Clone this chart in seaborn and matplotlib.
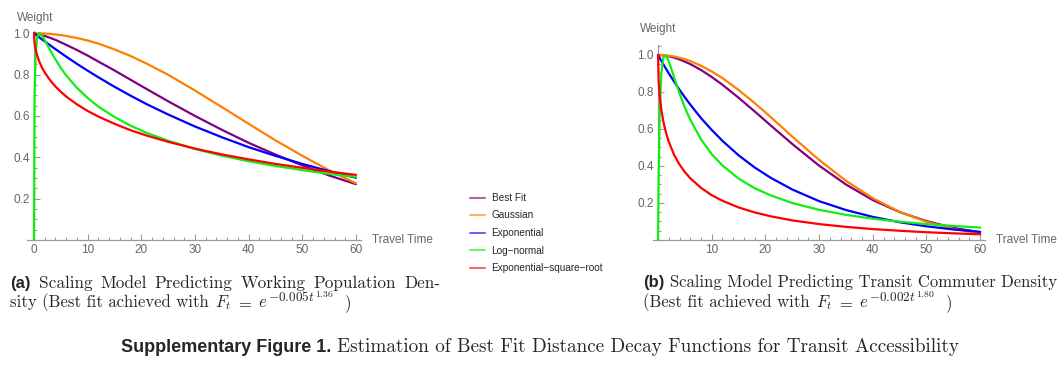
import numpy as np
import pandas as pd
import matplotlib
matplotlib.use('Agg')
import matplotlib.pyplot as plt
from matplotlib.lines import Line2D
from matplotlib.ticker import MultipleLocator
import seaborn as sns

# travel time grid (minutes)
travel_time = [0, 0.1, 0.3, 0.6, 1, 1.5, 2, 3, 4, 5, 6, 8, 10, 12, 15, 18, 21, 25, 30, 35, 40, 45, 50, 55, 60]

# (a) working population density
a_best_fit = [1.0, 1.0, 0.999, 0.998, 0.995, 0.991, 0.987, 0.978, 0.968, 0.956, 0.944, 0.919, 0.892,
              0.863, 0.820, 0.775, 0.730, 0.671, 0.600, 0.533, 0.470, 0.413, 0.361, 0.312, 0.270]
a_gaussian = [1.0, 1.0, 1.0, 1.0, 1.0, 0.999, 0.999, 0.997, 0.994, 0.991, 0.987, 0.977, 0.965,
              0.950, 0.922, 0.890, 0.853, 0.799, 0.723, 0.643, 0.562, 0.482, 0.407, 0.337, 0.274]
a_exponential = [1.0, 0.998, 0.994, 0.988, 0.980, 0.970, 0.961, 0.942, 0.923, 0.905, 0.887, 0.852, 0.819,
                 0.787, 0.741, 0.698, 0.657, 0.607, 0.549, 0.497, 0.449, 0.407, 0.368, 0.333, 0.301]
a_lognormal = [0.0, 0.687, 0.902, 0.982, 1.0, 0.988, 0.967, 0.918, 0.873, 0.832, 0.796, 0.736, 0.687,
               0.645, 0.595, 0.553, 0.518, 0.480, 0.440, 0.408, 0.381, 0.358, 0.338, 0.320, 0.305]
a_exp_sqrt = [1.0, 0.954, 0.922, 0.891, 0.862, 0.833, 0.810, 0.773, 0.742, 0.717, 0.694, 0.656, 0.624,
              0.597, 0.562, 0.531, 0.505, 0.475, 0.442, 0.414, 0.390, 0.368, 0.349, 0.331, 0.315]

# (b) transit commuter density
b_best_fit = [1.0, 1.0, 1.0, 0.999, 0.998, 0.996, 0.993, 0.986, 0.976, 0.964, 0.951, 0.919, 0.881,
              0.839, 0.769, 0.695, 0.619, 0.519, 0.402, 0.300, 0.216, 0.151, 0.102, 0.066, 0.042]
b_gaussian = [1.0, 1.0, 1.0, 1.0, 0.999, 0.998, 0.996, 0.992, 0.985, 0.977, 0.967, 0.942, 0.911,
              0.875, 0.811, 0.740, 0.664, 0.559, 0.433, 0.320, 0.226, 0.152, 0.098, 0.060, 0.035]
b_exponential = [1.0, 0.995, 0.984, 0.969, 0.949, 0.925, 0.901, 0.856, 0.812, 0.771, 0.732, 0.659, 0.595,
                 0.536, 0.458, 0.392, 0.336, 0.273, 0.210, 0.162, 0.125, 0.096, 0.074, 0.057, 0.044]
b_lognormal = [0.0, 0.299, 0.674, 0.897, 0.988, 0.996, 0.966, 0.879, 0.792, 0.716, 0.650, 0.544, 0.464,
               0.403, 0.332, 0.280, 0.241, 0.200, 0.163, 0.136, 0.115, 0.099, 0.086, 0.076, 0.067]
b_exp_sqrt = [1.0, 0.868, 0.782, 0.707, 0.639, 0.578, 0.531, 0.460, 0.408, 0.367, 0.334, 0.282, 0.242,
              0.212, 0.176, 0.149, 0.128, 0.106, 0.086, 0.071, 0.059, 0.050, 0.042, 0.036, 0.031]

models = ['Best Fit', 'Gaussian', 'Exponential', 'Log−normal', 'Exponential−square−root']
colors = ['#800080', '#ff8000', '#0000ff', '#11ee11', '#ff0000']
palette = dict(zip(models, colors))


def long_df(series):
    rows = []
    for name, vals in zip(models, series):
        rows.append(pd.DataFrame({'t': travel_time, 'w': vals, 'model': name}))
    return pd.concat(rows, ignore_index=True)


df_a = long_df([a_best_fit, a_gaussian, a_exponential, a_lognormal, a_exp_sqrt])
df_b = long_df([b_best_fit, b_gaussian, b_exponential, b_lognormal, b_exp_sqrt])

sns.set_style('white')
plt.rcParams['font.family'] = ['Liberation Sans', 'DejaVu Sans']
plt.rcParams['mathtext.fontset'] = 'cm'

W, H = 1062, 366
fig = plt.figure(figsize=(W / 100, H / 100), dpi=100)


def px_ax(x0, y_top, x1, y_bot):
    return fig.add_axes([x0 / W, 1 - y_bot / H, (x1 - x0) / W, (y_bot - y_top) / H])


ax1 = px_ax(26.5, 31.2, 361.4, 240)
ax2 = px_ax(653.2, 45, 985, 240)

axis_col = '#9a9a9a'
label_col = '#666666'

for ax, df, xlim, ylim, xt in [(ax1, df_a, (-1.4, 61), (0, 1.01), [0, 10, 20, 30, 40, 50, 60]),
                               (ax2, df_b, (-0.9, 60.9), (0, 1.054), [10, 20, 30, 40, 50, 60])]:
    sns.lineplot(data=df, x='t', y='w', hue='model', hue_order=models, palette=palette,
                 estimator=None, sort=False, linewidth=1.6, legend=False, ax=ax)
    ax.set_xlim(*xlim)
    ax.set_ylim(*ylim)
    ax.set_xlabel('')
    ax.set_ylabel('')
    ax.patch.set_alpha(0)
    for s in ['top', 'right']:
        ax.spines[s].set_visible(False)
    ax.spines['left'].set_position(('data', 0))
    ax.spines['bottom'].set_position(('data', 0))
    for s in ['left', 'bottom']:
        ax.spines[s].set_color(axis_col)
        ax.spines[s].set_linewidth(0.9)
        ax.spines[s].set_zorder(0)
    ax.set_xticks(xt)
    ax.set_yticks([0.2, 0.4, 0.6, 0.8, 1.0])
    ax.xaxis.set_minor_locator(MultipleLocator(2))
    ax.yaxis.set_minor_locator(MultipleLocator(0.05))
    ax.tick_params(which='both', direction='in', color=axis_col, labelcolor=label_col,
                   labelsize=8.5, bottom=True, left=True, width=0.8)
    ax.tick_params(which='major', length=4, pad=3)
    ax.tick_params(which='minor', length=2)

# axis labels
fig.text(17 / W, 1 - 18 / H, 'Weight', fontsize=8.5, color=label_col, va='center', ha='left')
fig.text(372 / W, 1 - 240 / H, 'Travel Time', fontsize=8.5, color=label_col, va='center', ha='left')
fig.text(640 / W, 1 - 29 / H, 'Weight', fontsize=8.5, color=label_col, va='center', ha='left')
fig.text(996 / W, 1 - 240 / H, 'Travel Time', fontsize=8.5, color=label_col, va='center', ha='left')

# legend between panels
handles = [Line2D([], [], color=c, lw=1.5, alpha=0.6) for c in colors]
fig.legend(handles, models, loc='upper left', bbox_to_anchor=(470 / W, 1 - 193 / H),
           frameon=False, fontsize=7.2, handlelength=1.5, handletextpad=0.65,
           labelspacing=0.75, borderpad=0, borderaxespad=0)

# captions
fig.canvas.draw()
renderer = fig.canvas.get_renderer()


def measure(txt, kw):
    t = fig.text(0, 0, txt, **kw)
    w = t.get_window_extent(renderer).width
    t.remove()
    return w


def put_line(x_px, y_px, parts, center=None, end=None, gap=6):
    # parts: (text, style, gap after, raise in px)
    parts = [p if len(p) == 4 else (p[0], p[1], gap, 0) for p in parts]
    widths = [measure(p[0], p[1]) for p in parts]
    gaps = [p[2] for p in parts[:-1]]
    total = sum(widths) + sum(gaps)
    if center is not None:
        x_px = center - total / 2
    if end is not None:
        extra = (end - x_px - total) / len(gaps)
        gaps = [g + extra for g in gaps]
    x = x_px
    for i, (p, w) in enumerate(zip(parts, widths)):
        fig.text(x / W, 1 - (y_px - p[3]) / H, p[0], va='baseline', ha='left', **p[1])
        if i < len(gaps):
            x += w + gaps[i]


bold = dict(fontsize=12, fontweight='bold', family=['Liberation Sans', 'DejaVu Sans'])
serif = dict(fontsize=12, family=['cmr10', 'DejaVu Serif'])
serif_l1 = dict(fontsize=12.4, family=['cmr10', 'DejaVu Serif'])
sup1 = dict(fontsize=9.5, family=['cmr10', 'DejaVu Serif'])
sup2 = dict(fontsize=7, family=['cmr10', 'DejaVu Serif'])
title_bold = dict(fontsize=13, fontweight='bold', family=['Liberation Sans', 'DejaVu Sans'])
title_serif = dict(fontsize=13.8, family=['cmr10', 'DejaVu Serif'])

words_a = 'Scaling Model Predicting Working Population Den-'.split()
put_line(10, 288, [('(a)', bold)] + [(w, serif_l1) for w in words_a], end=440)
put_line(10, 307, [('sity (Best fit achieved with', serif, 6, 0), (r'$F_t$', serif, 5, 0),
                   (r'$=$', serif, 5, 0), (r'$e$', serif, 0.5, 0), (r'$-0.005t$', sup1, 0, 6),
                   (r'$1.36$', sup2, 12, 10), (')', serif, 0, 0)])
put_line(643, 287, [('(b)', bold), ('Scaling Model Predicting Transit Commuter Density', serif)])
put_line(643, 307, [('(Best fit achieved with', serif, 6, 0), (r'$F_t$', serif, 5, 0),
                    (r'$=$', serif, 5, 0), (r'$e$', serif, 0.5, 0), (r'$-0.002t$', sup1, 0, 6),
                    (r'$1.80$', sup2, 12, 10), (')', serif, 0, 0)])
put_line(0, 352, [('Supplementary Figure 1.', title_bold),
                  ('Estimation of Best Fit Distance Decay Functions for Transit Accessibility', title_serif)],
         center=540)

fig.savefig('out.png', dpi=100)
